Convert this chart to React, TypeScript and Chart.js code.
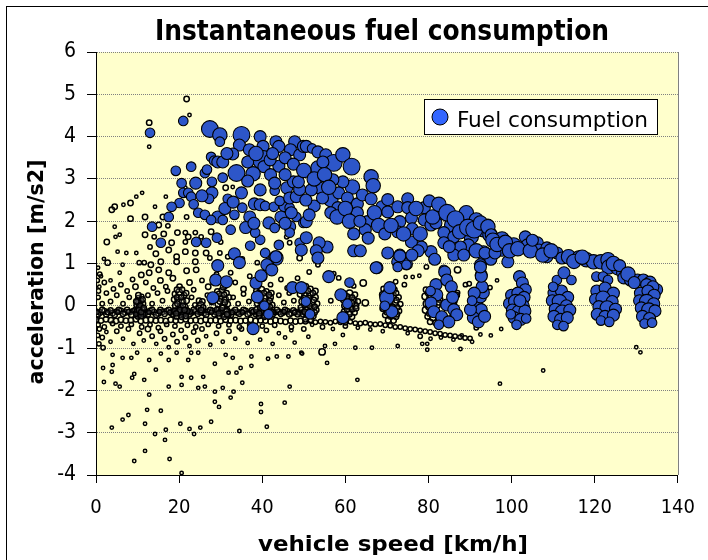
import React, { useEffect, useRef } from "react";
import { Chart, registerables } from "chart.js";

Chart.register(...registerables);

const TITLE = "Instantaneous fuel consumption";
const X_TITLE = "vehicle speed [km/h]";
const Y_TITLE = "acceleration [m/s2]";
const LEGEND_LABEL = "Fuel consumption";

const X_MIN = 0, X_MAX = 140, X_STEP = 20;
const Y_MIN = -4, Y_MAX = 6, Y_STEP = 1;

// [speed km/h, acceleration m/s2, bubble size]
const fuelLowSpeed = [
  [13.0,4.09,4],[21.0,4.37,4],[27.4,4.18,7],[29.8,4.04,6],[29.8,3.88,4],[35.0,4.04,7],[34.5,3.8,5],[36.9,3.69,5],
  [39.5,4.0,5],[40.2,3.77,5],[43.3,3.88,5],[44.0,3.77,5],[47.8,3.88,5],[46.8,3.69,5],[49.0,3.57,5],[49.9,3.77,5],
  [32.9,3.59,5],[27.7,3.52,4],[28.4,3.43,4],[29.3,3.4,5],[40.0,3.45,8],[40.4,3.29,5],[44.0,3.3,5],[41.9,3.45,5],
  [33.8,3.14,7],[37.8,3.12,6],[19.2,3.19,4],[22.9,3.29,4],[26.2,3.14,4],[26.7,3.22,4],[30.5,3.03,4],[27.9,2.93,4],
  [20.6,2.9,4],[27.9,2.67,5],[27.2,2.53,4],[31.7,2.53,4],[35.0,2.67,5],[39.5,2.74,5],[43.0,2.72,4],[45.9,2.79,5],
  [47.5,2.93,5],[21.0,2.67,4],[22.2,2.67,4],[22.9,2.58,4],[20.1,2.43,4],[18.2,2.34,4],[13.5,1.87,4],[15.6,1.49,4],
  [24.6,2.2,4],[26.2,2.15,4],[29.3,2.1,5],[30.5,2.03,4],[27.7,2.03,4],[33.3,2.15,4],[35.2,2.32,4],[38.1,2.41,5],
  [39.5,2.39,5],[40.7,2.36,4],[42.8,2.34,4],[45.2,2.34,4],[46.6,2.32,4],[44.2,2.48,4],[46.6,2.55,5],[48.2,2.58,5],
  [41.6,1.96,5],[43.0,1.84,4],[46.6,1.87,5],[48.2,2.1,4],[49.9,1.96,4],[32.4,1.8,4],[29.1,1.61,4],[26.5,1.49,4],
  [24.1,1.51,4],[37.1,1.42,4],[39.5,1.56,4],[38.3,1.73,4],[44.0,1.44,4],[46.6,1.73,4],[49.0,1.49,4],[33.1,1.23,4],
  [40.7,1.25,4],[43.3,1.13,6],[41.6,1.02,4],[34.5,1.02,4],[29.1,0.97,4],[40.0,0.69,4],[28.8,0.64,4],
  [38.5,0.54,5],[39.7,0.71,5],[41.1,0.97,5],[42.3,0.85,5],[43.3,1.16,5],[28.8,0.61,5],[31.4,0.57,5],
  [33.3,1.23,5],[34.5,1.02,5],[29.3,0.95,5],
  [44.5,2.1,5],[45.5,1.95,5],[47.0,2.2,5],[37.0,2.1,5],[36.0,1.85,5],[38.0,1.95,5],[31.0,2.3,5],[33.0,2.45,5],
  [25.5,2.6,5],[24.0,2.9,5],[23.5,2.4,4],[17.5,2.1,4],[30.5,3.4,5],[31.5,3.6,5],[36.5,3.4,5],[38.5,3.6,6],
  [42.5,3.6,5],[45.5,3.5,5],[47.5,3.35,5],[45.5,3.1,5],[42.0,3.1,5],[36.5,2.95,5],[43.0,2.9,5],[49.0,2.75,5]
];

const fuelMidSpeed = [
  [50.6,3.77,5],[52.0,3.72,4],[53.4,3.64,5],[55.3,3.57,5],[57.2,3.38,7],[59.4,3.57,6],[61.5,3.29,7],[53.4,3.26,6],
  [54.6,3.4,5],[66.2,3.05,6],[66.7,2.84,6],[61.7,2.81,6],[59.4,2.93,5],[57.0,2.98,5],[48.7,2.93,5],[53.7,2.79,5],
  [51.8,2.74,5],[56.5,2.51,6],[58.4,2.67,5],[60.5,2.55,5],[62.9,2.41,5],[64.1,2.62,5],[66.2,2.53,5],[58.2,2.32,5],
  [52.5,2.36,5],[62.9,2.2,5],[65.3,1.99,5],[64.8,1.8,5],[68.8,2.34,5],[70.2,2.51,5],[70.2,2.22,5],[72.6,2.34,5],
  [75.0,2.53,5],[75.0,2.32,5],[73.1,1.99,5],[72.6,1.75,5],[75.9,2.08,5],[76.1,1.82,5],[79.0,2.32,5],[80.2,2.48,5],
  [79.0,2.03,5],[80.6,1.91,5],[83.0,2.2,6],[81.8,1.96,5],[85.4,2.1,6],[85.6,1.91,6],[83.7,1.73,5],[86.1,1.63,5],
  [88.4,1.96,7],[89.1,2.2,6],[90.3,1.63,6],[91.5,2.03,6],[93.2,1.8,6],[94.8,1.68,6],[94.3,1.91,5],[93.2,1.25,6],
  [89.6,1.44,5],[87.7,1.39,5],[86.1,1.2,5],[83.7,1.49,5],[80.6,1.28,5],[78.3,1.39,5],[75.9,1.51,5],[73.1,1.2,5],
  [74.7,0.99,5],[72.6,1.04,5],[70.2,1.25,5],[67.6,0.9,5],[62.0,1.3,5],[63.6,1.3,5],[55.6,1.39,5],[53.7,1.49,5],
  [53.0,1.3,5],[53.4,1.13,5],[50.6,1.61,5],[49.4,1.32,5],[50.6,1.99,5],[51.3,2.15,5],[92.5,0.97,5],[92.7,0.73,5],
  [83.7,0.85,4],[56.0,0.69,5],[67.4,0.9,5],[73.1,1.18,5],[72.6,0.92,4],[74.7,0.97,4],
  [50.5,2.5,5],[54.5,2.55,5],[56.5,2.2,5],[50.0,3.2,6],[52.5,3.0,6],[55.0,3.1,6],[56.0,2.8,6],[58.0,2.1,6],
  [60.0,2.3,6],[61.0,2.0,6],[63.5,2.0,5],[67.0,2.2,6],[68.0,1.9,6],[69.5,1.7,5],[71.0,1.9,6],[74.0,1.7,6],
  [77.0,2.3,6],[78.0,1.7,6],[81.0,2.1,6],[82.5,2.4,6],[84.5,2.2,7],[86.5,2.05,7],[87.5,1.75,6],[89.5,1.85,7],
  [91.0,1.8,7],[65.5,1.6,5],[62.0,1.7,5],[77.5,1.3,5],[76.0,1.2,5],[81.5,1.1,5],[85.0,1.4,5],[88.5,1.2,5],
  [91.5,1.3,6],[95.0,1.1,5]
];

const fuelHighSpeed = [
  [92.5,1.96,6],[94.3,1.87,6],[95.1,1.68,5],[93.6,1.25,5],[97.7,1.58,6],[97.7,1.37,7],[100.5,1.44,6],[99.1,1.04,5],
  [96.0,1.25,5],[103.3,1.63,5],[103.8,1.44,5],[106.2,1.49,5],[106.6,1.32,5],[108.5,1.37,5],[108.5,1.16,5],[110.9,1.25,5],
  [112.1,1.13,5],[113.7,1.16,6],[116.1,1.16,5],[118.0,1.09,6],[119.7,1.04,6],[121.5,1.04,6],[123.2,1.09,6],[123.4,0.92,6],
  [125.6,0.9,6],[126.7,0.78,5],[127.0,0.66,5],[128.6,0.61,5],[130.3,0.61,5],[131.7,0.61,5],[133.3,0.56,5],[134.9,0.38,5],
  [120.4,0.69,4],[122.0,0.69,4],[123.2,0.61,4],[110.9,0.61,4],[112.6,0.78,5],[114.4,0.61,4],[101.9,0.69,5],[102.6,0.54,5],
  [103.3,0.38,5],[92.5,0.69,4],[92.7,0.45,4],
  [95.5,1.55,6],[96.5,1.45,6],[98.5,1.5,6],[99.5,1.3,6],[101.5,1.35,6],[104.5,1.3,6],[105.0,1.55,5],[107.5,1.2,6],
  [109.5,1.3,6],[115.0,1.05,6],[117.0,1.15,6],[124.5,1.0,6],[126.0,0.95,5],[128.0,0.75,6],[129.5,0.55,5],[132.5,0.5,5],
  [134.0,0.45,5]
];

const fuelCruise40to70 = [
  [37.8,-0.54,5],[38.8,0.21,5],[28.1,0.19,5],[40.5,0.0,4],[41.5,-0.2,4],
  [47.3,0.43,5],[49.4,0.43,5],[50.5,0.1,4],[51.5,-0.2,4],
  [58.9,0.26,5],[59.4,-0.28,5],[61.0,0.55,4],[60.5,0.05,4],
  [70.0,0.19,6],[70.7,0.43,5],[71.2,-0.14,5],[69.5,0.0,4]
];

const fuelCruise80to90 = [
  [81.8,0.5,5],[82.0,0.26,5],[80.6,0.07,5],[81.3,-0.14,5],[83.2,-0.26,5],[84.4,0.02,5],[83.9,0.8,5],[84.4,0.61,5],
  [85.5,0.45,5],[86.1,-0.09,5],[86.8,-0.21,5],[84.9,-0.38,5],[85.8,0.2,5],[80.5,0.35,4],[82.5,-0.45,4],
  [91.3,0.07,5],[92.5,0.21,5],[91.5,-0.17,5],[92.7,-0.09,5],[90.8,-0.28,5],[93.2,0.31,5],[92.9,0.45,5],[92.7,0.7,5],
  [92.5,0.92,5],[90.1,-0.09,5],[92.0,-0.38,5],[93.5,-0.25,5],[91.0,0.3,5],[90.5,0.12,4]
];

const fuelCruise100to130 = [
  [100.0,0.25,5],[101.5,0.3,5],[103.0,0.2,5],[99.5,0.05,5],[101.0,0.1,6],[102.8,0.0,5],[100.2,-0.1,5],[101.8,-0.15,6],
  [103.2,-0.12,5],[100.6,-0.28,5],[102.2,-0.32,5],[101.2,-0.45,4],[99.8,-0.2,4],[103.5,-0.3,4],[102.0,0.12,5],
  [110.2,0.3,5],[112.0,0.35,5],[113.5,0.2,5],[109.8,0.12,5],[111.5,0.1,6],[113.2,0.0,5],[110.5,-0.08,5],[112.2,-0.15,6],
  [114.0,-0.1,5],[110.2,-0.25,5],[111.8,-0.32,5],[113.4,-0.28,5],[111.0,-0.45,4],[112.5,-0.48,4],[110.0,0.45,4],
  [120.5,0.35,5],[122.5,0.42,5],[124.5,0.3,5],[120.2,0.15,5],[122.0,0.18,6],[124.2,0.1,5],[121.0,-0.02,5],[123.0,-0.05,6],
  [125.0,-0.08,5],[120.6,-0.2,5],[122.5,-0.25,5],[124.5,-0.22,5],[121.5,-0.35,4],[123.5,-0.38,4],
  [131.0,0.3,5],[132.8,0.35,5],[134.3,0.25,5],[130.8,0.12,5],[132.5,0.1,6],[134.2,0.05,5],[131.2,-0.05,5],[133.0,-0.1,6],
  [134.5,-0.12,5],[131.5,-0.25,5],[133.2,-0.3,5],[132.0,-0.42,4],[133.8,-0.4,4]
];

// samples without fuel flow (hollow markers)
const noFuelAbove = [
  [21.8,4.89,2.5],[22.5,4.51,1.5],[12.8,4.33,2.5],[12.8,3.76,1.5],[31.2,2.79,2.5],[32.9,2.81,1.5],[21.5,2.79,1.5],
  [11.1,2.67,1.5],[9.7,2.58,1.5],[8.3,2.43,2.5],[6.6,2.39,1.5],[4.5,2.34,2.5],[3.8,2.27,2.5],[14.2,2.34,1.5],
  [16.8,2.58,1.5],[11.8,2.1,2.5],[8.3,2.06,2.5],[16.1,2.1,2.5],[18.0,2.1,2],[15.1,1.91,2.5],[17.3,1.89,2],
  [21.8,2.1,2],[4.5,1.87,1.5],[4.7,1.63,1.5],[5.7,1.68,1.5],[2.6,1.51,2.5],[11.8,1.68,2.5],[14.0,1.63,2],
  [16.3,1.7,2.5],[19.6,1.73,2.5],[21.5,1.73,2],[23.9,1.73,2],[27.7,1.75,2.5],[25.3,1.63,2],[22.2,1.63,2.5],
  [18.2,1.49,2.5],[21.5,1.51,2],[30.0,1.51,2],[13.0,1.39,2],[14.4,1.23,2.5],[17.5,1.32,2.5],[19.4,1.16,2.5],
  [21.5,1.28,2.5],[23.9,1.25,2.5],[5.2,1.28,1.5],[7.3,1.25,1.5],[9.7,1.25,1.5],[1.9,1.11,1.5],[2.8,1.02,2.5],
  [6.4,0.97,1.5],[10.4,1.02,2],[11.6,1.02,2],[13.2,0.97,2.5],[15.6,1.04,2.5],[15.1,0.85,2.5],[17.5,0.78,2.5],
  [19.4,1.04,2.5],[21.8,0.83,2.5],[23.9,1.04,2.5],[26.5,1.25,2.5],[27.4,1.13,2],[29.8,1.25,2],[31.7,1.16,2],
  [35.2,1.11,2],[38.8,1.02,2],[5.7,0.78,1.5],[10.9,0.73,2.5],[12.8,0.78,2.5],[24.1,0.85,2.5],[32.4,0.78,2],
  [45.9,1.63,2],[46.6,1.49,2],[49.0,1.13,2.5],
  [0.5,0.9,1.5],[1.2,0.7,1.5],[0.8,0.45,1.5],[2.0,0.55,2],[3.5,0.6,1.5],[4.2,0.4,2],[6.0,0.5,2],[7.5,0.35,2],
  [8.8,0.62,2],[9.5,0.45,2.5],[12.0,0.55,2],[13.8,0.42,2],[15.5,0.6,2.5],[16.8,0.45,2],[18.5,0.65,2.5],[22.5,0.55,2.5],
  [23.5,0.38,2],[25.5,0.6,2],[27.0,0.45,2.5],[29.0,0.75,2],[31.0,0.45,2],[33.5,0.55,2],[35.5,0.4,2.5],[37.0,0.7,2],
  [39.0,0.45,2],[42.0,0.5,2],[44.5,0.62,2],[46.0,0.42,2],[48.5,0.65,2],
  [51.3,0.8,2],[53.4,0.97,2],[57.2,0.76,2],[58.4,0.66,2],[62.0,0.47,2],[64.3,0.54,3],[64.8,0.07,3],[56.5,0.12,2],
  [72.1,0.57,2],[74.2,0.5,2],[74.5,0.68,1.5],[76.2,0.68,1.5],[77.8,0.71,1.5],[79.5,0.92,2],[87.0,0.85,3],[87.0,0.31,2],
  [86.1,0.1,2],[88.9,0.5,2],[89.8,0.52,2],[94.8,0.43,2],[81.5,0.55,2],[84.5,0.45,1.5],[96.5,0.6,1.5],
  [0.5,0.2,2],[1.5,0.05,2],[2.5,0.3,2],[3.5,0.1,2],[5,0.25,2],[6.5,0.05,2],[8,0.2,2],[12.5,0.25,2],[13.5,0.05,2],
  [14.8,0.3,2],[16,0.12,2],[17.2,0.35,2],[23,0.2,2],[23.8,0.02,2],[26.8,0.25,2],[27.8,0.08,2],[33,0.2,2],[34.2,0.05,2],
  [35.5,0.28,2],[36.8,0.1,2],[44,0.25,2],[45.2,0.08,2],[46.5,0.3,2],[47.6,0.12,2],[0.3,0.6,2],[0.6,0.35,2],[0.9,0.75,2]
];

const noFuelBelow = [
  [1.7,-0.99,2],[1.7,-1.47,1.5],[1.9,-1.8,1.5],[3.8,-1.56,1.5],[4.0,-1.4,1.5],[4.7,-1.84,1.5],[5.7,-1.91,1.5],
  [6.4,-1.23,1.5],[8.7,-1.7,1.5],[9.2,-1.61,1.5],[11.6,-1.75,1.5],[12.8,-2.1,1.5],[14.4,-1.51,1.5],[12.3,-2.46,1.5],
  [15.6,-2.48,1.5],[7.8,-2.58,1.5],[6.4,-2.69,1.5],[3.8,-2.88,1.5],[11.8,-2.79,1.5],[14.2,-3.03,1.5],[16.6,-3.17,1.5],
  [11.8,-3.43,1.5],[9.2,-3.67,1.5],[17.7,-3.62,1.5],[20.6,-3.95,1.5],[16.8,-2.93,1.5],[20.3,-2.79,1.5],[22.5,-2.91,1.5],
  [23.6,-3.03,1.5],[25.1,-2.88,1.5],[27.7,-2.74,1.5],[34.5,-2.96,1.5],[41.1,-2.86,1.5],[39.7,-2.32,1.5],[39.7,-2.51,1.5],
  [45.4,-2.29,1.5],[28.6,-2.27,1.5],[29.6,-2.39,1.5],[32.4,-2.17,1.5],[33.1,-2.03,1.5],[28.6,-2.03,1.5],[35.2,-1.82,1.5],
  [30.5,-1.94,1.5],[26.2,-1.91,1.5],[24.6,-1.94,1.5],[20.6,-1.87,1.5],[17.5,-1.91,1.5],[20.6,-1.68,1.5],[22.9,-1.7,1.5],
  [25.8,-1.68,1.5],[46.6,-1.91,1.5],[28.6,-1.37,1.5],[31.9,-1.58,1.5],[33.8,-1.58,1.5],[34.8,-1.47,1.5],[37.4,-1.42,1.5],
  [37.4,-1.2,1.5],[43.5,-1.2,1.5],[41.4,-1.25,1.5],[46.3,-1.2,1.5],[49.4,-1.11,1.5],[47.8,-0.87,1.5],[31.2,-1.16,1.5],
  [32.9,-1.23,1.5],[24.6,-1.11,1.5],[22.9,-1.11,1.5],[22.2,-1.28,1.5],[17.5,-1.28,1.5],[19.4,-1.11,1.5],[15.6,-1.13,1.5],
  [12.8,-1.28,1.5],[9.9,-1.11,1.5],[8.5,-1.23,1.5],[4.0,-1.16,1.5],
  [54.4,-1.09,3],[55.6,-1.35,1.5],[62.9,-1.75,1.5],[62.4,-0.99,1.5],[66.4,-0.99,1.5],[72.6,-0.95,1.5],[78.5,-0.9,1.5],
  [79.7,-0.9,1.5],[79.7,-1.04,1.5],[87.7,-1.02,1.5],[97.2,-1.84,1.5],[49.6,-1.13,1.5],[57.5,-0.9,1.5],[55.1,-0.95,1.5],
  [51.1,-0.73,1.5],[59.4,-0.69,1.5],[130.0,-0.98,1.5],[131.0,-1.1,1.5],[107.6,-1.53,1.5],[91.5,-0.52,2],[97.5,-0.55,1.5],
  [0.8,-0.55,2],[1.5,-0.75,2],[2.5,-0.62,1.5],[3.5,-0.85,1.5],[5.0,-0.6,2],[6.5,-0.78,1.5],[7.8,-0.55,2],[9.0,-0.9,1.5],
  [10.5,-0.65,2],[11.5,-0.82,1.5],[12.5,-0.55,2.5],[13.5,-0.72,2],[14.5,-0.9,1.5],[15.5,-0.6,2],[16.5,-0.78,2],
  [17.5,-0.98,1.5],[18.5,-0.68,2],[19.5,-0.85,2],[20.5,-0.58,2],[21.5,-0.75,2],[22.5,-0.95,1.5],[23.5,-0.62,2],
  [24.5,-0.82,2],[25.5,-0.55,2],[26.5,-0.72,1.5],[27.5,-0.92,1.5],[29.0,-0.65,2],[30.5,-0.85,1.5],[32.0,-0.6,2],
  [33.5,-0.78,1.5],[35.0,-0.55,2],[36.5,-0.88,1.5],[38.0,-0.62,1.5],[39.5,-0.8,1.5],[41.0,-0.58,2],[42.5,-0.9,1.5],
  [44.0,-0.65,1.5],[45.5,-0.75,1.5],[47.0,-0.58,1.5],[0.4,-0.7,2],[0.7,-0.9,2],[0.2,-0.25,2.5],
  [0.5,-0.45,2],[2,-0.5,2],[4,-0.42,2],[6,-0.48,2],[8.5,-0.44,2],[11,-0.5,2],[13,-0.45,2],[15,-0.52,2],[17,-0.44,2],
  [19,-0.48,2],[22,-0.46,2],[24,-0.5,2],[27,-0.44,2],[29.5,-0.48,2],[32,-0.45,2],[34.5,-0.5,2],[37,-0.45,2],[40,-0.48,2],
  [43,-0.46,2],
  [47,-0.5,2],[50,-0.55,2],[52,-0.45,1.5],[54.5,-0.5,2],[57,-0.55,1.5],[60,-0.48,2],[63,-0.52,1.5],[66,-0.56,1.5],
  [69,-0.6,1.5],[75,-0.65,1.5],[78,-0.72,2],[80.5,-0.78,1.5],[83,-0.75,1.5],[86,-0.8,1.5],[88,-0.7,1.5],[90.5,-0.85,1.5],
  [92.5,-0.68,1.5],[95,-0.7,1.5]
];

// coasting band (upper)
const coastBandUpper = [
  [0,-0.14,2.5],[1,-0.16,2.5],[2,-0.13,2.5],[3,-0.15,2.5],[4,-0.17,2.5],[5,-0.14,2.5],[6,-0.12,2.5],[7,-0.16,2.5],
  [8,-0.15,2.5],[9,-0.13,2.5],[10,-0.17,2.5],[11,-0.14,2.5],[12,-0.16,2.5],[13,-0.12,2.5],[14,-0.15,2.5],[15,-0.18,2.5],
  [16,-0.14,2.5],[17,-0.13,2.5],[18,-0.16,2.5],[19,-0.15,2.5],[20,-0.12,2.5],[21,-0.17,2.5],[22,-0.14,2.5],[23,-0.16,2.5],
  [24,-0.13,2.5],[25,-0.15,2.5],[26,-0.17,2.5],[27,-0.14,2.5],[28,-0.12,2.5],[29,-0.16,2.5],[30,-0.15,2.5],[31,-0.13,2.5],
  [32,-0.17,2.5],[33,-0.14,2.5],[34,-0.16,2.5],[35,-0.15,2.5],[36,-0.12,2.5],[37,-0.17,2.5],[38,-0.14,2.5],[39,-0.16,2.5],
  [40,-0.15,2.5],[41,-0.13,2.5],[42,-0.17,2.5],[43,-0.15,2.5],[44,-0.14,2.5],[45,-0.16,2.5],[46,-0.13,2.5],[47,-0.17,2.5],
  [48,-0.15,2.5],[49,-0.16,2.5],[50,-0.14,2.5],[51,-0.16,2.5],
  [0.5,-0.2,2.5],[1.5,-0.1,2.5],[2.5,-0.2,2.5],[3.5,-0.11,2.5],[4.5,-0.21,2.5],[5.5,-0.1,2.5],[6.5,-0.19,2.5],[7.5,-0.1,2.5],
  [8.5,-0.21,2.5],[9.5,-0.1,2.5],[10.5,-0.2,2.5],[11.5,-0.09,2.5],[12.5,-0.2,2.5],[13.5,-0.1,2.5],[14.5,-0.21,2.5],[15.5,-0.1,2.5],
  [16.5,-0.19,2.5],[17.5,-0.1,2.5],[18.5,-0.2,2.5],[19.5,-0.1,2.5],[20.5,-0.21,2.5],[21.5,-0.09,2.5],[22.5,-0.2,2.5],[23.5,-0.1,2.5],
  [24.5,-0.19,2.5],[25.5,-0.1,2.5],[26.5,-0.21,2.5],[27.5,-0.1,2.5],[28.5,-0.2,2.5],[29.5,-0.1,2.5],[30.5,-0.2,2.5],[31.5,-0.1,2.5],
  [32.5,-0.21,2.5],[33.5,-0.1,2.5],[34.5,-0.19,2.5],[35.5,-0.1,2.5],[36.5,-0.2,2.5],[37.5,-0.11,2.5],[38.5,-0.2,2.5],[39.5,-0.1,2.5],
  [40.5,-0.21,2.5],[41.5,-0.1,2.5],[42.5,-0.2,2.5],[43.5,-0.1,2.5],[44.5,-0.19,2.5],[45.5,-0.1,2.5],[46.5,-0.2,2.5],[47.5,-0.11,2.5],
  [48.5,-0.2,2.5],[49.5,-0.1,2.5],[50.5,-0.19,2.5],
  [0.25,-0.15,2],[2.75,-0.16,2],[5.25,-0.15,2],[7.75,-0.14,2],[10.25,-0.16,2],[12.75,-0.15,2],[15.25,-0.14,2],[17.75,-0.16,2],
  [20.25,-0.15,2],[22.75,-0.14,2],[25.25,-0.16,2],[27.75,-0.15,2],[30.25,-0.14,2],[32.75,-0.16,2],[35.25,-0.15,2],[37.75,-0.14,2],
  [40.25,-0.16,2],[42.75,-0.15,2],[45.25,-0.14,2],[47.75,-0.16,2],[50.25,-0.15,2]
];

// coasting band (lower)
const coastBandLower = [
  [0,-0.33,2.5],[1.2,-0.35,2.5],[2.4,-0.32,2.5],[3.6,-0.34,2.5],[4.8,-0.36,2.5],[6,-0.33,2.5],[7.2,-0.35,2.5],[8.4,-0.34,2.5],
  [9.6,-0.32,2.5],[10.8,-0.36,2.5],[12,-0.34,2.5],[13.2,-0.33,2.5],[14.4,-0.35,2.5],[15.6,-0.34,2.5],[16.8,-0.36,2.5],
  [18,-0.33,2.5],[19.2,-0.35,2.5],[20.4,-0.34,2.5],[21.6,-0.32,2.5],[22.8,-0.35,2.5],[24,-0.34,2.5],[25.2,-0.36,2.5],
  [26.4,-0.33,2.5],[27.6,-0.35,2.5],[28.8,-0.34,2.5],[30,-0.36,2.5],[31.2,-0.33,2.5],[32.4,-0.35,2.5],[33.6,-0.34,2.5],
  [34.8,-0.36,2.5],[36,-0.35,2.5],[37.2,-0.33,2.5],[38.4,-0.36,2.5],[39.6,-0.34,2.5],[40.8,-0.35,2.5],[42,-0.37,2.5],
  [43.2,-0.34,2.5],[44.4,-0.36,2.5],[45.6,-0.38,2.5],[46.8,-0.35,2.5],[48,-0.37,2.5],[49.2,-0.36,2.5],[50.4,-0.38,2],
  [51.6,-0.36,2],[52.8,-0.39,2],[54,-0.37,2],[55.2,-0.38,2],[56.4,-0.4,2],[57.6,-0.37,2],[58.8,-0.39,2],[60,-0.4,2],
  [61.2,-0.38,2],[62.4,-0.41,2],[63.6,-0.42,2],[64.8,-0.4,2],[66,-0.43,2],[67.2,-0.44,2],[68.4,-0.43,2],[69.6,-0.46,2],
  [70.8,-0.47,2],[72,-0.5,2],[73.2,-0.5,2],[74.4,-0.53,2],[75.6,-0.55,2],[76.8,-0.56,2],[78,-0.58,2],[79.2,-0.6,2],
  [80.4,-0.62,2],[81.6,-0.65,2],[82.8,-0.66,2],[84,-0.69,2],[85.2,-0.7,2],[86.4,-0.72,2],[87.6,-0.74,2],[88.8,-0.76,2],
  [90,-0.77,2]
];

// steady-speed clusters without fuel flow
const noFuelCruise = [
  [10.2,0.18,2.5],[10.8,0.12,2.5],[11.3,0.05,2.5],[9.8,0.02,2.5],[10.5,-0.03,3],[11.1,-0.08,2.5],[9.9,-0.12,2.5],
  [10.6,-0.18,3],[11.4,-0.2,2.5],[10.1,-0.25,2.5],[10.9,-0.24,2.5],[10.4,0.08,2.5],[11.0,0.22,2],[9.6,-0.2,2],
  [19.0,0.28,2.5],[20.0,0.32,3],[21.2,0.25,2.5],[18.8,0.15,2.5],[19.8,0.12,3],[20.8,0.1,3],[21.8,0.12,2.5],[19.2,0.0,3],
  [20.3,-0.02,3],[21.4,-0.04,3],[18.9,-0.12,2.5],[19.9,-0.15,3],[21.0,-0.18,3],[22.0,-0.12,2.5],[19.4,-0.25,2.5],
  [20.6,-0.26,2.5],[21.6,-0.24,2.5],[20.1,0.45,2.5],
  [24.8,0.12,2.5],[25.6,0.1,2.5],[25.2,0.02,3],[24.7,-0.05,2.5],[25.8,-0.04,2.5],[25.3,-0.1,2.5],
  [29.2,0.34,2.5],[30.3,0.36,2.5],[31.4,0.3,2.5],[29.0,0.2,3],[30.0,0.18,3],[31.1,0.15,3],[32.0,0.2,2.5],[29.4,0.05,3],
  [30.6,0.02,3],[31.7,0.04,2.5],[29.1,-0.1,2.5],[30.2,-0.12,3],[31.3,-0.14,3],[29.7,-0.24,2.5],[30.8,-0.26,2.5],[31.8,-0.22,2.5],
  [38.6,0.35,2.5],[39.8,0.38,3],[41.0,0.34,2.5],[42.2,0.3,2.5],[38.5,0.2,3],[39.6,0.22,3],[40.8,0.18,3],[41.9,0.2,3],
  [38.9,0.06,3],[40.1,0.04,3],[41.3,0.05,3],[42.4,0.02,2.5],[38.7,-0.1,3],[39.9,-0.12,3],[41.1,-0.1,3],[42.2,-0.14,2.5],
  [39.2,-0.24,2.5],[40.5,-0.26,2.5],[41.7,-0.24,2.5],
  [49.3,0.42,2.5],[50.4,0.45,3],[51.6,0.4,2.5],[52.8,0.35,2.5],[49.2,0.28,3],[50.3,0.25,3],[51.5,0.26,3],[52.7,0.2,3],
  [49.6,0.1,3],[50.8,0.12,3],[52.0,0.08,3],[53.2,0.05,2.5],[49.4,-0.05,3],[50.6,-0.06,3],[51.8,-0.08,3],[53.0,-0.1,2.5],
  [49.8,-0.2,2.5],[51.0,-0.22,3],[52.3,-0.24,2.5],[50.4,-0.32,2.5],[51.7,-0.33,2.5],
  [59.8,0.28,2.5],[61.0,0.3,3],[62.3,0.26,2.5],[59.6,0.15,3],[60.8,0.14,3],[62.0,0.12,3],[63.0,0.1,2.5],[59.9,0.0,3],
  [61.1,-0.02,3],[62.4,0.0,3],[59.7,-0.14,2.5],[60.9,-0.15,3],[62.2,-0.16,2.5],[60.3,-0.25,2.5],[61.6,-0.26,2.5],
  [69.2,0.4,2.5],[70.4,0.45,2.5],[71.8,0.38,2.5],[69.0,0.26,3],[70.2,0.25,3],[71.5,0.24,3],[72.8,0.2,2.5],[69.4,0.1,3],
  [70.7,0.08,3],[72.0,0.06,3],[73.2,0.04,2.5],[69.1,-0.06,3],[70.4,-0.08,3],[71.7,-0.1,3],[72.9,-0.12,2.5],[69.6,-0.22,2.5],
  [70.9,-0.24,3],[72.2,-0.26,2.5],[70.3,-0.34,2.5],[71.6,-0.35,2.5],
  [79.4,0.38,2.5],[80.6,0.4,2.5],[81.9,0.36,2.5],[79.2,0.22,3],[80.4,0.2,3],[81.7,0.18,3],[82.8,0.15,2.5],[79.5,0.05,3],
  [80.8,0.04,3],[82.1,0.02,3],[79.3,-0.1,3],[80.6,-0.12,3],[81.9,-0.14,3],[79.8,-0.25,2.5],[81.1,-0.28,3],[82.4,-0.3,2.5],
  [80.4,-0.38,2.5],[81.7,-0.4,2.5],
  [85.2,0.15,2.5],[86.2,0.1,2.5],[85.5,-0.05,2.5],[86.5,-0.12,2.5],[85.8,-0.25,2.5],[86.8,0.25,2.5],
  [90.5,0.2,2.5],[91.6,0.15,2.5],[90.8,-0.05,2.5],[92.0,-0.1,2.5],[91.2,-0.25,2.5],[92.3,0.05,2.5]
];

// dense cores of the steady-speed clusters
const noFuelCruiseCore = [
  [10.0,0.1,2.5],[10.7,0.0,2.5],[10.3,-0.1,2.5],[11.2,0.15,2.5],[9.7,0.1,2.5],[10.9,-0.15,2.5],[10.2,0.25,2.5],[11.5,-0.05,2.5],
  [19.5,0.2,2.5],[20.5,0.2,2.5],[19.6,0.05,2.5],[20.9,0.0,2.5],[20.2,-0.1,2.5],[19.3,-0.18,2.5],[21.3,-0.1,2.5],[20.7,0.38,2.5],
  [19.5,0.38,2.5],[21.7,0.3,2.5],
  [29.6,0.28,2.5],[30.8,0.26,2.5],[29.8,0.1,2.5],[31.0,0.08,2.5],[30.4,-0.05,2.5],[29.5,-0.18,2.5],[31.5,-0.2,2.5],[30.6,0.44,2.5],
  [39.2,0.3,2.5],[40.4,0.3,2.5],[41.6,0.26,2.5],[39.4,0.12,2.5],[40.6,0.1,2.5],[41.8,0.12,2.5],[39.5,-0.04,2.5],[40.7,-0.04,2.5],
  [41.8,-0.02,2.5],[39.3,-0.18,2.5],[40.9,-0.18,2.5],
  [49.8,0.35,2.5],[51.0,0.35,2.5],[52.2,0.3,2.5],[50.0,0.18,2.5],[51.2,0.18,2.5],[52.4,0.14,2.5],[50.2,0.02,2.5],[51.4,0.0,2.5],
  [52.6,-0.02,2.5],[50.2,-0.14,2.5],[51.4,-0.15,2.5],[52.6,-0.16,2.5],
  [60.4,0.22,2.5],[61.6,0.2,2.5],[60.2,0.07,2.5],[61.6,0.06,2.5],[60.4,-0.08,2.5],[61.7,-0.08,2.5],[61.0,-0.2,2.5],[62.6,-0.06,2.5],
  [69.8,0.33,2.5],[71.0,0.33,2.5],[72.2,0.3,2.5],[69.8,0.17,2.5],[71.0,0.16,2.5],[72.3,0.13,2.5],[70.1,0.0,2.5],[71.3,-0.02,2.5],
  [72.5,-0.04,2.5],[70.0,-0.15,2.5],[71.2,-0.17,2.5],[72.4,-0.2,2.5],
  [79.9,0.3,2.5],[81.2,0.28,2.5],[80.0,0.12,2.5],[81.3,0.1,2.5],[82.5,0.08,2.5],[80.0,-0.03,2.5],[81.3,-0.05,2.5],[80.2,-0.18,2.5],
  [81.5,-0.2,2.5],[82.6,-0.2,2.5]
];

const FONT = '"DejaVu Sans Condensed", "DejaVu Sans", Tahoma, sans-serif';
const BLUE = "#2d56c9";
const LEGEND_BLUE = "#3366ff";
const FUEL_SCALE = 1.2;      // bubble size -> pixel radius
const NOFUEL_SCALE = 1.0;
const NOFUEL_MIN = 0.2;

const toPoints = (rows: number[][], k: number, add: number) =>
  rows.map(([x, y, r]) => ({ x, y, r: r * k + add }));

function fitText(ctx: CanvasRenderingContext2D, text: string, x: number, y: number,
  size: number, bold: boolean, width: number, align: CanvasTextAlign, rotate = 0) {
  ctx.save();
  ctx.font = `${bold ? "bold " : ""}${size}px ${FONT}`;
  const w = ctx.measureText(text).width;
  ctx.translate(x, y);
  if (rotate) ctx.rotate(rotate);
  ctx.scale(width / w, 1);
  ctx.textAlign = align;
  ctx.textBaseline = "alphabetic";
  ctx.fillStyle = "#000";
  ctx.fillText(text, 0, 0);
  ctx.restore();
}

const decorPlugin = {
  id: "decor",
  beforeDraw(chart: any) {
    const { ctx, chartArea: a } = chart;
    ctx.save();
    ctx.fillStyle = "#ffffff";
    ctx.fillRect(0, 0, chart.width, chart.height);
    ctx.fillStyle = "#ffffcc";
    ctx.fillRect(a.left, a.top, a.right - a.left, a.bottom - a.top);
    ctx.restore();
  },
  afterDraw(chart: any) {
    const { ctx, chartArea: a } = chart;
    ctx.save();
    ctx.strokeStyle = "#808080";
    ctx.lineWidth = 1;
    ctx.beginPath();
    ctx.moveTo(Math.round(a.right) + 0.5, a.top);
    ctx.lineTo(Math.round(a.right) + 0.5, a.bottom);
    ctx.stroke();
    ctx.strokeStyle = "#000";
    ctx.strokeRect(6.5, 6.5, 760, 620);
    ctx.restore();

    fitText(ctx, TITLE, 382, 40, 28, true, 454, "center");
    fitText(ctx, X_TITLE, 393, 551, 21, true, 270, "center");
    fitText(ctx, Y_TITLE, 43, 272, 21, true, 225, "center", -Math.PI / 2);

    ctx.save();
    ctx.fillStyle = "#fff";
    ctx.fillRect(424, 99, 233, 35);
    ctx.strokeStyle = "#000";
    ctx.lineWidth = 1;
    ctx.strokeRect(424.5, 99.5, 233, 35);
    ctx.beginPath();
    ctx.arc(440, 117, 8, 0, Math.PI * 2);
    ctx.fillStyle = LEGEND_BLUE;
    ctx.fill();
    ctx.stroke();
    ctx.restore();
    fitText(ctx, LEGEND_LABEL, 457, 127, 22, false, 191, "left");
  },
};

export default function App() {
  const ref = useRef<HTMLCanvasElement>(null);
  useEffect(() => {
    if (!ref.current) return;
    const fuel = toPoints([...fuelLowSpeed, ...fuelMidSpeed, ...fuelHighSpeed,
      ...fuelCruise40to70, ...fuelCruise80to90, ...fuelCruise100to130], FUEL_SCALE, 0);
    const noFuel = toPoints([...noFuelAbove, ...noFuelBelow, ...coastBandUpper,
      ...coastBandLower, ...noFuelCruise, ...noFuelCruiseCore], NOFUEL_SCALE, NOFUEL_MIN);
    const chart = new Chart(ref.current, {
      type: "bubble",
      data: {
        datasets: [
          { label: LEGEND_LABEL, data: fuel, backgroundColor: BLUE, borderColor: "#000",
            borderWidth: 1.1, order: 0 },
          { label: "no fuel", data: noFuel, backgroundColor: "rgba(255,255,255,0.15)", borderColor: "#000",
            borderWidth: 1.5, order: 1 },
        ],
      },
      options: {
        responsive: false,
        animation: false,
        events: [],
        layout: { padding: { top: 52, right: 20, left: 0, bottom: 0 } },
        plugins: { legend: { display: false }, title: { display: false }, tooltip: { enabled: false } },
        scales: {
          x: {
            type: "linear", min: X_MIN, max: X_MAX,
            afterFit: (s: any) => { s.height = 85; },
            ticks: { stepSize: X_STEP, color: "#000", font: { family: FONT, size: 20 }, padding: 13, maxRotation: 0 },
            grid: { drawOnChartArea: false, tickLength: 8, tickColor: "#000", color: "#000" },
            border: { color: "#000", width: 1 },
          },
          y: {
            type: "linear", min: Y_MIN, max: Y_MAX,
            afterFit: (s: any) => { s.width = 96; },
            ticks: { stepSize: Y_STEP, color: "#000", font: { family: FONT, size: 21 }, padding: 11 },
            grid: { color: "#808080", tickLength: 9, tickColor: "#000", lineWidth: 1 },
            border: { color: "#000", width: 1, dash: [1, 1] },
          },
        },
      },
      plugins: [decorPlugin],
    });
    return () => chart.destroy();
  }, []);
  return (
    <div style={{ position: "absolute", left: 0, top: 0, width: 708, height: 560 }}>
      <canvas ref={ref} width={708} height={560} style={{ display: "block" }} />
    </div>
  );
}
